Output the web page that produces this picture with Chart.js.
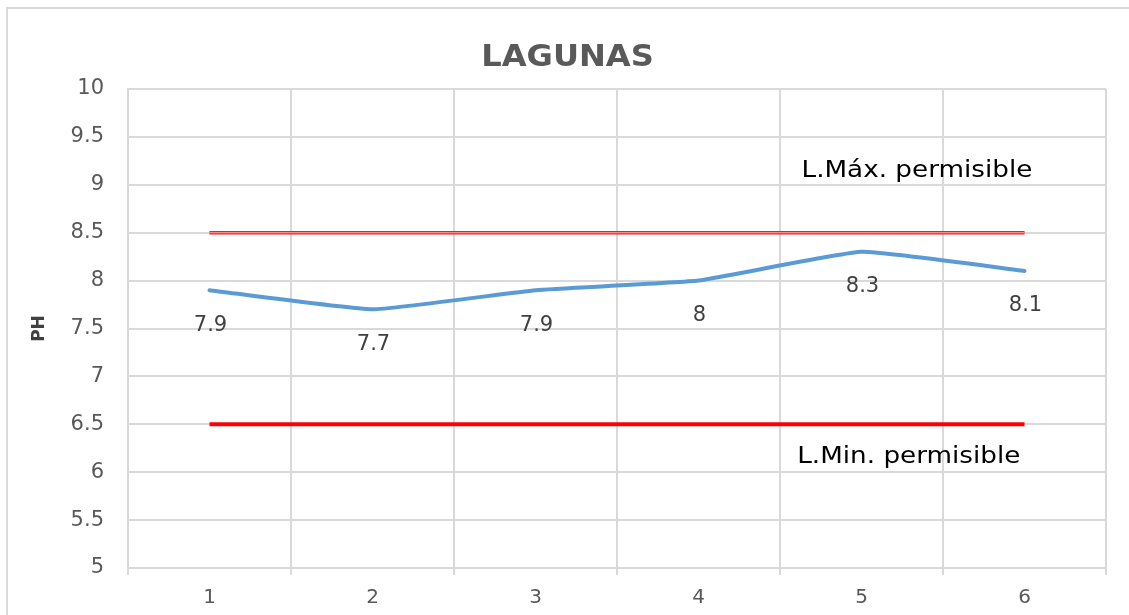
<!DOCTYPE html>
<html>
<head>
<meta charset="utf-8">
<script src="https://cdn.jsdelivr.net/npm/chart.js@4.4.1/dist/chart.umd.min.js"></script>
<style>
    html, body { margin: 0; padding: 0; background: #fff; }
    canvas { display: block; }
</style>
</head>
<body>
<canvas id="phChart" width="1129" height="615"></canvas>
<script>
const sites = ['1', '2', '3', '4', '5', '6'];
const phValues = [7.9, 7.7, 7.9, 8, 8.3, 8.1];
const maxLimit = [8.5, 8.5, 8.5, 8.5, 8.5, 8.5];
const minLimit = [6.5, 6.5, 6.5, 6.5, 6.5, 6.5];
const yMin = 5;
const yMax = 10;
const yStep = 0.5;

const gridColor = '#d9d9d9';
const tickColor = '#595959';

// text drawn with a small horizontal stretch, like the original
function stretchedText(ctx, text, x, y, font, color, sx) {
    ctx.save();
    ctx.font = font;
    ctx.fillStyle = color;
    ctx.textAlign = 'center';
    ctx.textBaseline = 'middle';
    ctx.translate(x, y);
    ctx.scale(sx, 1);
    ctx.fillText(text, 0, 0);
    ctx.restore();
}

const extras = {
    id: 'extras',
    beforeDraw(chart) {
        const ctx = chart.ctx;
        ctx.save();
        ctx.fillStyle = '#fff';
        ctx.fillRect(0, 0, chart.width, chart.height);
        ctx.strokeStyle = gridColor;
        ctx.lineWidth = 2;
        ctx.strokeRect(7, 8, chart.width + 20, chart.height + 20);
        ctx.restore();
    },
    afterDatasetsDraw(chart) {
        const ctx = chart.ctx;
        const xs = chart.scales.x;
        const ys = chart.scales.y;

        // value labels under the pH line
        const meta = chart.getDatasetMeta(0);
        meta.data.forEach((pt, i) => {
            stretchedText(ctx, String(phValues[i]), pt.x + 1, pt.y + 35, '21px "DejaVu Sans"', '#404040', 1);
        });

        // limit notes
        stretchedText(ctx, 'L.Máx. permisible', xs.getPixelForValue(4.34), ys.getPixelForValue(9.14),
            '23px "DejaVu Sans"', '#000', 1.14);
        stretchedText(ctx, 'L.Min. permisible', xs.getPixelForValue(4.29), ys.getPixelForValue(6.16),
            '23px "DejaVu Sans"', '#000', 1.14);

        // title
        stretchedText(ctx, 'LAGUNAS', (chart.width) / 2 + 3, 58, 'bold 30px "DejaVu Sans"', '#595959', 1.07);

        // y axis title
        ctx.save();
        ctx.translate(40, (chart.chartArea.top + chart.chartArea.bottom) / 2);
        ctx.rotate(-Math.PI / 2);
        ctx.font = 'bold 17px "DejaVu Sans"';
        ctx.fillStyle = '#404040';
        ctx.textAlign = 'center';
        ctx.textBaseline = 'middle';
        ctx.fillText('PH', 0, 0);
        ctx.restore();
    }
};

const chart = new Chart(document.getElementById('phChart'), {
    type: 'line',
    data: {
        labels: sites,
        datasets: [
            {
                label: 'pH',
                data: phValues,
                borderColor: '#5b9bd5',
                borderWidth: 4,
                tension: 0.12,
                pointRadius: 0,
                borderCapStyle: 'round',
                borderJoinStyle: 'round',
                order: 0
            },
            {
                label: 'max inner',
                data: maxLimit,
                borderColor: '#ff8c8c',
                borderWidth: 1.2,
                pointRadius: 0,
                order: 1
            },
            {
                label: 'L.Máx. permisible',
                data: maxLimit,
                borderColor: '#ff1a1a',
                borderWidth: 3.5,
                pointRadius: 0,
                order: 2
            },
            {
                label: 'L.Min. permisible',
                data: minLimit,
                borderColor: '#ff0000',
                borderWidth: 4,
                pointRadius: 0,
                order: 3
            }
        ]
    },
    options: {
        responsive: false,
        animation: false,
        layout: { padding: { top: 89, right: 23, bottom: 0, left: 0 } },
        plugins: {
            legend: { display: false },
            title: { display: false },
            tooltip: { enabled: false }
        },
        scales: {
            x: {
                offset: true,
                grid: { offset: true, color: gridColor, lineWidth: 2, tickLength: 7, drawTicks: true },
                border: { color: gridColor, width: 2 },
                ticks: { color: tickColor, font: { family: 'DejaVu Sans', size: 20 }, padding: 11, maxRotation: 0 },
                afterFit(scale) { scale.height = 47; }
            },
            y: {
                min: yMin,
                max: yMax,
                grid: { color: gridColor, lineWidth: 2, drawTicks: false, tickLength: 0 },
                border: { color: gridColor, width: 2 },
                ticks: {
                    stepSize: yStep,
                    color: tickColor,
                    font: { family: 'DejaVu Sans', size: 21 },
                    padding: 24,
                    callback: v => String(v)
                },
                afterFit(scale) { scale.width = 128; }
            }
        }
    },
    plugins: [extras]
});
</script>
</body>
</html>
